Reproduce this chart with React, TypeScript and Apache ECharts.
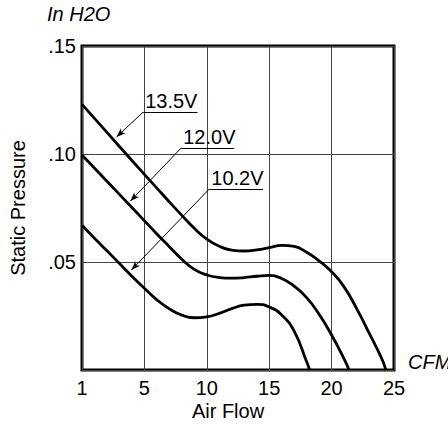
import React, { useEffect, useRef } from "react";
import * as echarts from "echarts";

// Air flow (axis units: left edge labelled "1") and static pressure (In H2O)
const flow135 = [0, 2, 4, 6, 7, 8, 9, 10, 11, 12, 13, 14, 15, 16, 17, 18, 19, 20, 21, 22, 23, 24, 24.35];
const press135 = [0.123, 0.110, 0.097, 0.0842, 0.0778, 0.0716, 0.0656, 0.0606, 0.0573, 0.0555, 0.0551, 0.0556, 0.0566, 0.0577, 0.0572, 0.0545, 0.0505, 0.0455, 0.0385, 0.0285, 0.0172, 0.0055, 0];

const flow120 = [0, 2, 4, 6, 7, 8, 9, 10, 11, 12, 13, 14, 15, 16, 17, 18, 19, 20, 21, 21.4];
const press120 = [0.0995, 0.0874, 0.0752, 0.063, 0.0571, 0.0513, 0.0466, 0.0440, 0.0428, 0.0425, 0.0428, 0.0434, 0.0438, 0.0424, 0.0388, 0.0335, 0.0258, 0.0162, 0.0052, 0];

const flow102 = [0, 1, 2, 3, 4, 5, 6, 7, 8, 9, 10, 11, 12, 13, 14, 15, 16, 17, 18, 18.25];
const press102 = [0.067, 0.061, 0.0552, 0.0493, 0.0434, 0.0378, 0.0325, 0.0283, 0.0254, 0.0242, 0.0246, 0.0262, 0.0284, 0.0300, 0.0304, 0.0292, 0.0255, 0.0180, 0.0038, 0];

// Voltage labels: text, underline start, underline end x, arrow tip
const labelNames = ["13.5V", "12.0V", "10.2V"];
const labelStart: [number, number][] = [[4.9, 0.1194], [7.95, 0.1028], [10.2, 0.0838]];
const labelEndX = [9.26, 12.2, 14.5];
const arrowTip: [number, number][] = [[2.77, 0.1079], [3.88, 0.0782], [3.96, 0.0463]];

const FONT = "'Liberation Sans', Arial, Helvetica, sans-serif";

export default function App() {
  const ref = useRef<HTMLDivElement>(null);
  useEffect(() => {
    if (!ref.current) return;
    const chart = echarts.init(ref.current, undefined, { renderer: "svg" });
    const mk = (xs: number[], ys: number[]) => xs.map((x, i) => [x, ys[i]]);
    const lineData: any[] = [];
    labelNames.forEach((_, i) => {
      lineData.push([
        { coord: labelStart[i], symbol: "none" },
        { coord: [labelEndX[i], labelStart[i][1]], symbol: "none" },
      ]);
      lineData.push([
        { coord: labelStart[i], symbol: "none" },
        { coord: arrowTip[i], symbol: "arrow", symbolSize: [5, 9] },
      ]);
    });
    const pointData = labelNames.map((n, i) => ({
      coord: [labelStart[i][0], labelStart[i][1]],
      value: n,
    }));
    const curveStyle = { color: "#000", width: 2.8 };
    chart.setOption({
      animation: false,
      textStyle: { fontFamily: FONT },
      grid: {
        left: 78,
        right: 54,
        top: 46,
        bottom: 54,
        show: true,
        borderColor: "#000",
        borderWidth: 3,
        backgroundColor: "transparent",
      },
      graphic: [
        {
          type: "text",
          left: 47,
          top: 4,
          style: { text: "In H2O", font: `italic 20px ${FONT}`, fill: "#000" },
        },
        {
          type: "text",
          left: 408,
          top: 352,
          style: { text: "CFM", font: `italic 20px ${FONT}`, fill: "#000" },
        },
        {
          type: "text",
          x: 228,
          y: 411,
          style: {
            text: "Air Flow",
            font: `20px ${FONT}`,
            fill: "#000",
            textAlign: "center",
            textVerticalAlign: "middle",
          },
        },
      ],
      xAxis: {
        type: "value",
        min: 0,
        max: 25,
        interval: 5,
        axisLine: { show: false },
        axisTick: { show: false },
        axisLabel: {
          fontSize: 20,
          color: "#000",
          margin: 8,
          formatter: (v: number) => (v === 0 ? "1" : String(v)),
        },
        splitLine: { show: true, lineStyle: { color: "#444", width: 1 } },
      },
      yAxis: {
        type: "value",
        min: 0,
        max: 0.15,
        interval: 0.05,
        name: "Static Pressure",
        nameLocation: "middle",
        nameGap: 54,
        nameTextStyle: { fontSize: 20, color: "#000", fontFamily: FONT },
        axisLine: { show: false },
        axisTick: { show: false },
        axisLabel: {
          fontSize: 20,
          color: "#000",
          margin: 6,
          formatter: (v: number) =>
            v === 0 ? "" : "." + String(Math.round(v * 100)).padStart(2, "0"),
        },
        splitLine: { show: true, lineStyle: { color: "#444", width: 1 } },
      },
      series: [
        {
          name: "13.5V",
          type: "line",
          data: mk(flow135, press135),
          smooth: 0.5,
          showSymbol: false,
          symbol: "none",
          lineStyle: curveStyle,
          markLine: {
            silent: true,
            animation: false,
            label: { show: false },
            lineStyle: { color: "#000", width: 1, type: "solid" },
            data: lineData,
          },
          markPoint: {
            silent: true,
            symbol: "circle",
            symbolSize: 0,
            itemStyle: { color: "transparent" },
            label: {
              show: true,
              formatter: (p: any) => p.value,
              position: [2, -1],
              align: "left",
              verticalAlign: "bottom",
              fontSize: 20,
              color: "#000",
              fontFamily: FONT,
            },
            data: pointData,
          },
        },
        {
          name: "12.0V",
          type: "line",
          data: mk(flow120, press120),
          smooth: 0.5,
          showSymbol: false,
          symbol: "none",
          lineStyle: curveStyle,
        },
        {
          name: "10.2V",
          type: "line",
          data: mk(flow102, press102),
          smooth: 0.5,
          showSymbol: false,
          symbol: "none",
          lineStyle: curveStyle,
        },
      ],
    });
    return () => chart.dispose();
  }, []);
  return <div ref={ref} style={{ width: 448, height: 424, position: "absolute", left: 0, top: 0 }} />;
}
